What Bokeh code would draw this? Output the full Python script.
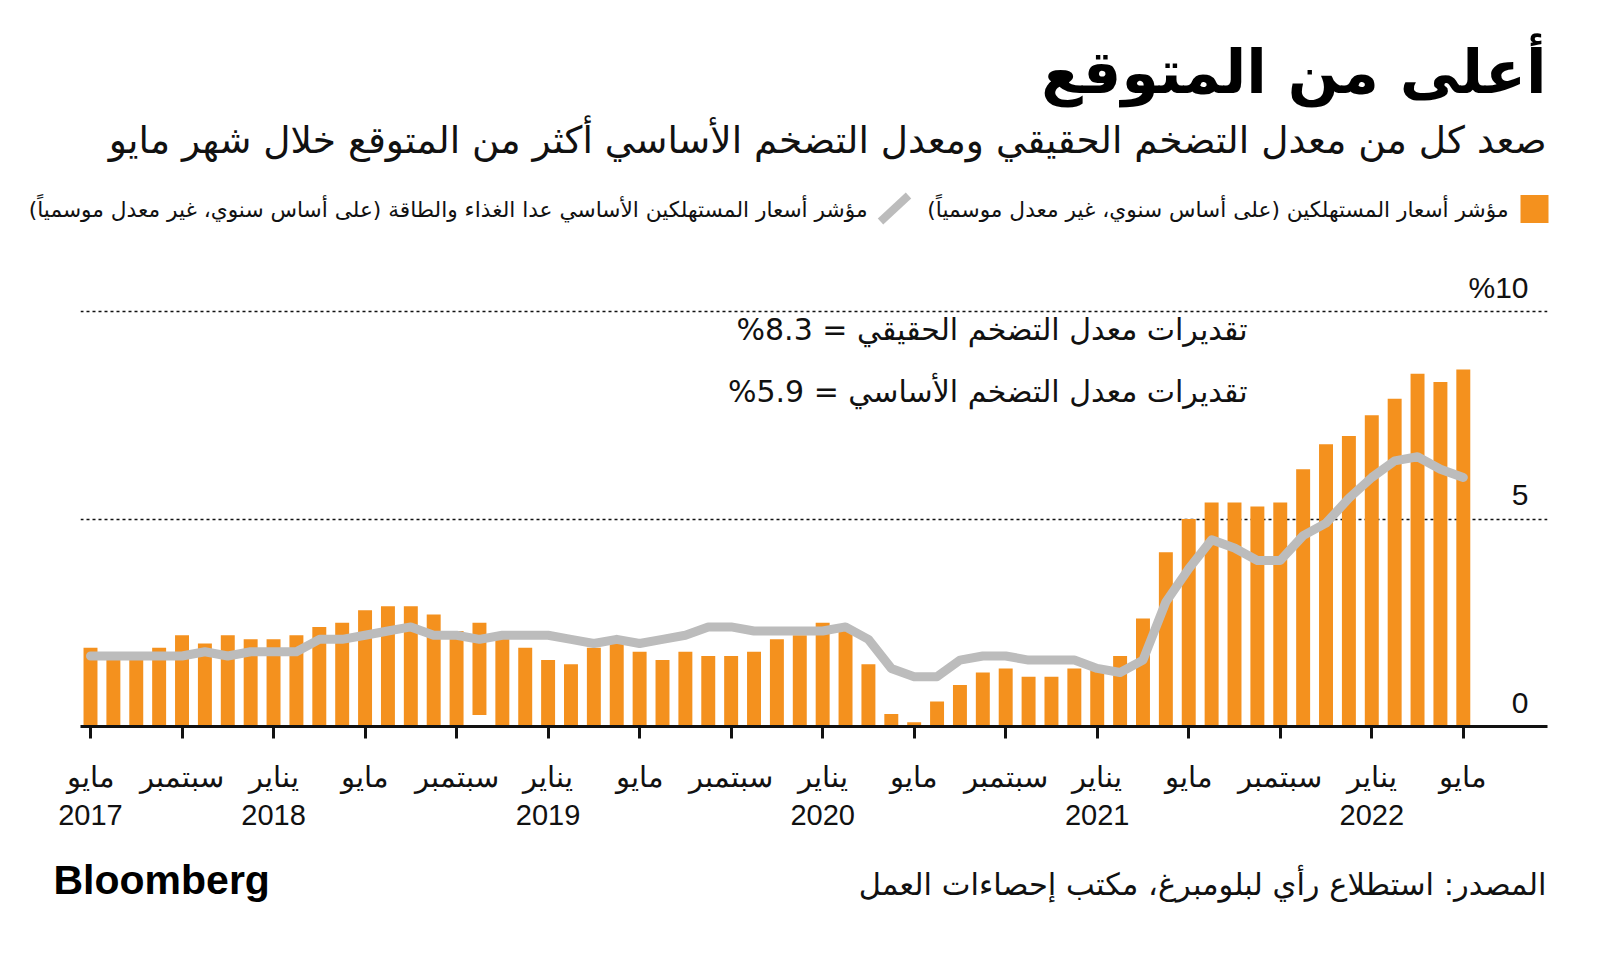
from bokeh.plotting import figure
from bokeh.layouts import column
from bokeh.models import Range1d, FixedTicker, Label
from bokeh.embed import file_html
from bokeh.resources import INLINE
from bokeh.core.properties import value

# ---------------- data ----------------
month_index = list(range(61))  # May 2017 .. May 2022
cpi = [1.9, 1.6, 1.7, 1.9, 2.2, 2.0, 2.2, 2.1,
       2.1, 2.2, 2.4, 2.5, 2.8, 2.9, 2.9, 2.7, 2.3, 2.5, 2.2, 1.9,
       1.6, 1.5, 1.9, 2.0, 1.8, 1.6, 1.8, 1.7, 1.7, 1.8, 2.1, 2.2,
       2.5, 2.3, 1.5, 0.3, 0.1, 0.6, 1.0, 1.3, 1.4, 1.2, 1.2, 1.4,
       1.4, 1.7, 2.6, 4.2, 5.0, 5.4, 5.4, 5.3, 5.4, 6.2, 6.8, 7.0,
       7.5, 7.9, 8.5, 8.3, 8.6]
cpi_bar_base = [0.0] * 61
cpi_bar_base[17] = 0.28
core = [1.7, 1.7, 1.7, 1.7, 1.7, 1.8, 1.7, 1.8,
        1.8, 1.8, 2.1, 2.1, 2.2, 2.3, 2.4, 2.2, 2.2, 2.1, 2.2, 2.2,
        2.2, 2.1, 2.0, 2.1, 2.0, 2.1, 2.2, 2.4, 2.4, 2.3, 2.3, 2.3,
        2.3, 2.4, 2.1, 1.4, 1.2, 1.2, 1.6, 1.7, 1.7, 1.6, 1.6, 1.6,
        1.4, 1.3, 1.6, 3.0, 3.8, 4.5, 4.3, 4.0, 4.0, 4.6, 4.9, 5.5,
        6.0, 6.4, 6.5, 6.2, 6.0]

tick_positions = list(range(0, 61, 4))
tick_months = ["مايو", "سبتمبر", "يناير"] * 5 + ["مايو"]
year_labels = {0: "2017", 8: "2018", 20: "2019", 32: "2020", 44: "2021", 56: "2022"}
y_ticks = [0, 5, 10]
y_tick_text = ["0", "5", "%10"]

title = "أعلى من المتوقع"
subtitle = "صعد كل من معدل التضخم الحقيقي ومعدل التضخم الأساسي أكثر من المتوقع خلال شهر مايو"
legend_cpi = "مؤشر أسعار المستهلكين (على أساس سنوي، غير معدل موسمياً)"
legend_core = "مؤشر أسعار المستهلكين الأساسي عدا الغذاء والطاقة (على أساس سنوي، غير معدل موسمياً)"
note_cpi = "%8.3 = تقديرات معدل التضخم الحقيقي"
note_core = "%5.9 = تقديرات معدل التضخم الأساسي"
source = "المصدر: استطلاع رأي لبلومبرغ، مكتب إحصاءات العمل"

ORANGE = "#f4911e"
GRAY = "#bcbcbc"
INK = "#111111"
AR = "DejaVu Sans"
LAT = "Liberation Sans"

# ---------------- layout (page px) ----------------
W = 1584
HEAD_B = 240          # header bottom / chart top
FL, FR, FB = 80, 1547, 726   # chart frame left/right/bottom
FOOT_T = 845          # chart figure bottom / footer top
H = 948
PXM = 22.88   # px per month
PXU = 41.5    # px per percentage point
x0 = -10 / PXM
x1 = x0 + (FR - FL) / PXM
y1 = (FB - HEAD_B) / PXU


def X(px):
    return x0 + (px - FL) / PXM


def Y(py):
    return (FB - py) / PXU


def no_align(f):
    try:
        f.frame_align = False
    except Exception:
        pass


def blank(h, top):
    f = figure(width=W, height=h, output_backend="svg", toolbar_location=None,
               x_range=Range1d(0, W), y_range=Range1d(top + h, top),
               x_axis_location=None, y_axis_location=None, min_border=0)
    f.outline_line_color = None
    f.grid.visible = False
    no_align(f)
    return f


def lab(f, text, x, y, size, align="right", font=AR, style="normal", color=INK):
    f.add_layout(Label(x=x, y=y, text=text, text_align=align,
                       text_baseline="middle", text_font=font,
                       text_font_size=size, text_font_style=style,
                       text_color=color))


# ---------------- header ----------------
head = blank(HEAD_B, 0)
lab(head, title, 1546, 71, "60px", style="bold", color="#000000")
lab(head, subtitle, 1546, 139, "37.5px")
head.scatter(x=[1534], y=[208.5], marker="square", size=28,
             fill_color=ORANGE, line_color=None)
lab(head, legend_cpi, 1508, 209, "21.7px")
head.segment(x0=[880], y0=[221], x1=[908], y1=[195], line_color=GRAY, line_width=8)
lab(head, legend_core, 867, 209, "21.7px")

# ---------------- main chart ----------------
p = figure(width=W, height=FOOT_T - HEAD_B, output_backend="svg", toolbar_location=None,
           x_range=Range1d(x0, x1), y_range=Range1d(0, y1),
           y_axis_location=None,
           min_border_left=FL, min_border_right=W - FR,
           min_border_top=0, min_border_bottom=FOOT_T - FB)
no_align(p)
p.outline_line_color = None
p.xgrid.visible = False
p.ygrid.ticker = FixedTicker(ticks=[5, 10])
p.ygrid.grid_line_color = INK
p.ygrid.grid_line_width = 1.5
p.ygrid.grid_line_dash = "3 3"

p.vbar(x=month_index, top=cpi, bottom=cpi_bar_base, width=0.61,
       fill_color=ORANGE, line_color=None)
p.line(x=month_index, y=core, line_color=GRAY, line_width=9,
       line_join="round", line_cap="round")

ax = p.xaxis[0]
ax.ticker = FixedTicker(ticks=tick_positions)
ax.major_label_overrides = {
    t: (m + "\n" + year_labels[t]) if t in year_labels else m
    for t, m in zip(tick_positions, tick_months)
}
ax.axis_line_width = 3
ax.axis_line_color = INK
ax.major_tick_line_width = 3
ax.major_tick_line_color = INK
ax.major_tick_out = 12
ax.major_tick_in = 0
ax.minor_tick_line_color = None
ax.major_label_text_font = LAT
ax.major_label_text_font_size = "29px"
ax.major_label_text_color = INK
ax.major_label_standoff = 22

p.text(x=[X(1528)] * 3, y=y_ticks, text=y_tick_text, text_align="right",
       text_baseline="alphabetic", y_offset=-24, text_font=value(LAT),
       text_font_size="30px", text_color=INK)

p.add_layout(Label(x=X(1247), y=Y(329), text=note_cpi, text_align="right",
                   text_baseline="middle", text_font=AR, text_font_size="30px",
                   text_color=INK))
p.add_layout(Label(x=X(1247), y=Y(391), text=note_core, text_align="right",
                   text_baseline="middle", text_font=AR, text_font_size="30px",
                   text_color=INK))

# ---------------- footer ----------------
foot = blank(H - FOOT_T, FOOT_T)
lab(foot, "Bloomberg", 53, 879, "41px", align="left", font=LAT, style="bold", color="#000000")
lab(foot, source, 1546, 884, "30.5px")

layout = column(head, p, foot, spacing=0)
open("out.html", "w").write(file_html(layout, INLINE))
